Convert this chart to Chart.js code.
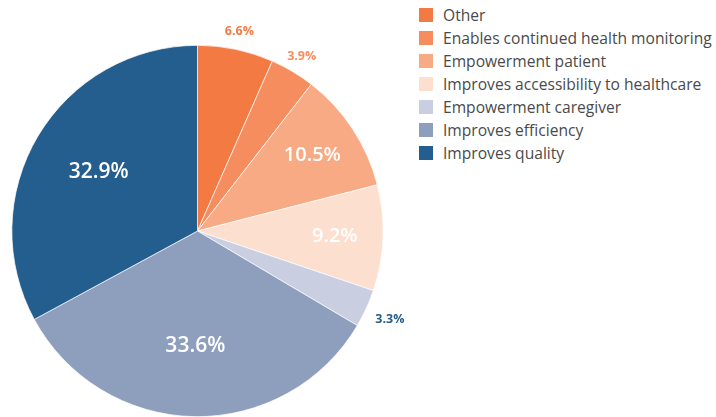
<!DOCTYPE html>
<html>
<head>
<meta charset="utf-8">
<script src="https://cdn.jsdelivr.net/npm/chart.js@4.4.1/dist/chart.umd.min.js"></script>
<style>
    html, body {margin: 0; padding: 0; background: #fff;}
    #wrap {position: relative; width: 716px; height: 417px;}
    #chartBox {position: absolute; left: 0; top: 0; width: 419px; height: 417px;}
    #legend {position: absolute; left: 419px; top: 7px; font-family: "Open Sans", sans-serif; font-size: 15.6px; color: #4a4a4a;}
    .item {display: flex; align-items: center; height: 23px; white-space: nowrap;}
    .box {width: 14px; height: 14px; margin-right: 10px; flex: none; position: relative; top: -4px;}
    .item span.txt {position: relative; top: -4px;}
</style>
</head>
<body>
<div id="wrap">
    <div id="chartBox"><canvas id="pie"></canvas></div>
    <div id="legend"></div>
</div>
<script>
const labels = ["Other", "Enables continued health monitoring", "Empowerment patient", "Improves accessibility to healthcare", "Empowerment caregiver", "Improves efficiency", "Improves quality"];
const values = [6.6, 3.9, 10.5, 9.2, 3.3, 33.6, 32.9];
const colors = ["#f47a43", "#f58d5f", "#f7aa84", "#fcdfcf", "#c9cfe0", "#8e9fbe", "#245e8e"];
const outsideColors = ["#f47a43", "#f58d5f", null, null, "#245e8e", null, null];

const legendEl = document.getElementById("legend");
labels.forEach((l, i) => {
    const row = document.createElement("div");
    row.className = "item";
    row.innerHTML = `<div class="box" style="background:${colors[i]}"></div><span class="txt">${l}</span>`;
    legendEl.appendChild(row);
});

const sliceLabels = {
    id: "sliceLabels",
    afterDatasetsDraw(chart) {
        const ctx = chart.ctx;
        chart.getDatasetMeta(0).data.forEach((arc, i) => {
            const {x, y, startAngle, endAngle, outerRadius} = arc.getProps(["x", "y", "startAngle", "endAngle", "outerRadius"], true);
            const mid = (startAngle + endAngle) / 2;
            const text = values[i].toFixed(1) + "%";
            ctx.save();
            ctx.textAlign = "center";
            ctx.textBaseline = "middle";
            if (outsideColors[i]) {
                const r = outerRadius + (values[i] < 4 && Math.cos(mid) > 0.5 && Math.sin(mid) > 0 ? 26 : 18);
                ctx.fillStyle = outsideColors[i];
                ctx.font = "bold 12.5px 'Open Sans', sans-serif";
                ctx.fillText(text, x + Math.cos(mid) * r, y + Math.sin(mid) * r);
            } else {
                const r = values[i] > 20 ? outerRadius * 0.62 : outerRadius * 0.74;
                ctx.fillStyle = "#ffffff";
                ctx.font = (values[i] > 20 ? "600 21px" : "600 20px") + " 'Open Sans', sans-serif";
                ctx.fillText(text, x + Math.cos(mid) * r, y + Math.sin(mid) * r);
            }
            ctx.restore();
        });
    }
};

new Chart(document.getElementById("pie"), {
    type: "pie",
    data: {
        labels,
        datasets: [{
            data: values,
            backgroundColor: colors,
            borderColor: "#ffffff",
            borderWidth: 0.7
        }]
    },
    options: {
        responsive: true,
        maintainAspectRatio: false,
        animation: false,
        layout: {padding: {top: 45, bottom: 0, left: 11, right: 35}},
        plugins: {
            legend: {display: false},
            tooltip: {enabled: false}
        }
    },
    plugins: [sliceLabels]
});
</script>
</body>
</html>
